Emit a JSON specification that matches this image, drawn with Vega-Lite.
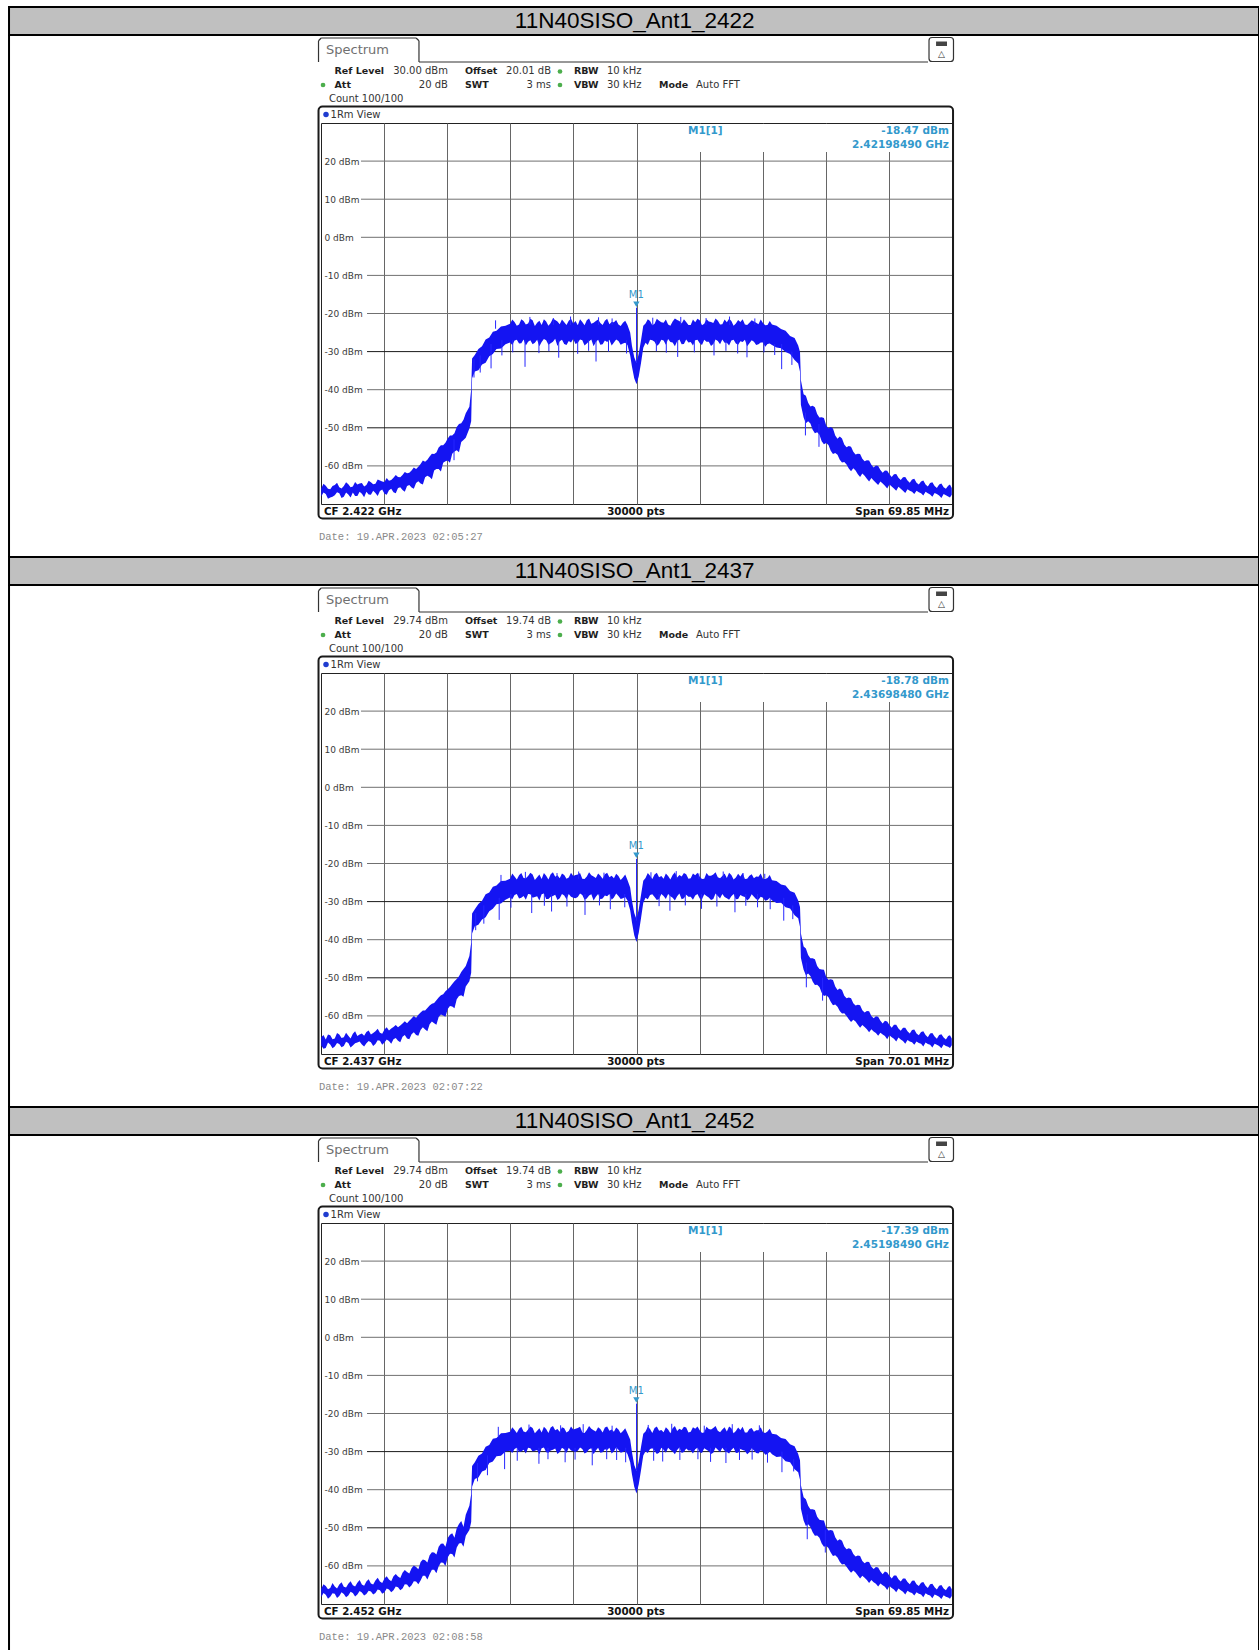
{
"$schema": "https://vega.github.io/schema/vega-lite/v6.json",
"padding": {"left": 7, "top": 5, "right": 0, "bottom": 0},
"autosize": {"type": "pad"},
"background": "white",
"config": {"view": {"stroke": "#222", "strokeWidth": 1}, "font": "DejaVu Sans"},
"data": {"values": [
{"p":1,"title":"11N40SISO_Ant1_2422","ref":"30.00 dBm","off":"20.01 dB","mk":"-18.47 dBm","mf":"2.42198490 GHz","mx":-0.015,"my":-18.47,"cf":"CF 2.422 GHz","span":"Span 69.85 MHz","date":"Date: 19.APR.2023  02:05:27"},
{"p":2,"title":"11N40SISO_Ant1_2437","ref":"29.74 dBm","off":"19.74 dB","mk":"-18.78 dBm","mf":"2.43698480 GHz","mx":-0.015,"my":-18.78,"cf":"CF 2.437 GHz","span":"Span 70.01 MHz","date":"Date: 19.APR.2023  02:07:22"},
{"p":3,"title":"11N40SISO_Ant1_2452","ref":"29.74 dBm","off":"19.74 dB","mk":"-17.39 dBm","mf":"2.45198490 GHz","mx":-0.015,"my":-17.39,"cf":"CF 2.452 GHz","span":"Span 69.85 MHz","date":"Date: 19.APR.2023  02:08:58"},
{"p":1,"h":20},{"p":1,"h":10},{"p":1,"h":0},{"p":1,"h":-10},{"p":1,"h":-20},{"p":1,"h":-30},{"p":1,"h":-40},{"p":1,"h":-50},{"p":1,"h":-60},
{"p":2,"h":20},{"p":2,"h":10},{"p":2,"h":0},{"p":2,"h":-10},{"p":2,"h":-20},{"p":2,"h":-30},{"p":2,"h":-40},{"p":2,"h":-50},{"p":2,"h":-60},
{"p":3,"h":20},{"p":3,"h":10},{"p":3,"h":0},{"p":3,"h":-10},{"p":3,"h":-20},{"p":3,"h":-30},{"p":3,"h":-40},{"p":3,"h":-50},{"p":3,"h":-60},
{"p":1,"f":-34.9,"a":-68.0,"b":-65.9},{"p":1,"f":-34.65,"a":-67.0,"b":-64.7},{"p":1,"f":-34.4,"a":-67.4,"b":-65.2},{"p":1,"f":-34.15,"a":-68.6,"b":-66.0},{"p":1,"f":-33.9,"a":-68.3,"b":-66.1},{"p":1,"f":-33.65,"a":-68.1,"b":-65.3},{"p":1,"f":-33.4,"a":-67.7,"b":-65.0},{"p":1,"f":-33.15,"a":-66.9,"b":-64.4},{"p":1,"f":-32.9,"a":-67.2,"b":-65.6},{"p":1,"f":-32.65,"a":-68.4,"b":-65.9},{"p":1,"f":-32.4,"a":-68.1,"b":-65.3},{"p":1,"f":-32.15,"a":-67.0,"b":-64.3},{"p":1,"f":-31.9,"a":-67.5,"b":-64.8},{"p":1,"f":-31.65,"a":-68.3,"b":-65.6},{"p":1,"f":-31.4,"a":-67.0,"b":-65.4},{"p":1,"f":-31.15,"a":-67.9,"b":-64.2},{"p":1,"f":-30.9,"a":-67.9,"b":-64.9},{"p":1,"f":-30.65,"a":-66.8,"b":-64.6},{"p":1,"f":-30.4,"a":-67.3,"b":-64.5},{"p":1,"f":-30.15,"a":-68.2,"b":-65.4},{"p":1,"f":-29.9,"a":-66.8,"b":-65.0},{"p":1,"f":-29.65,"a":-67.5,"b":-63.9},{"p":1,"f":-29.4,"a":-67.6,"b":-64.3},{"p":1,"f":-29.15,"a":-66.5,"b":-64.8},{"p":1,"f":-28.9,"a":-67.1,"b":-64.7},{"p":1,"f":-28.65,"a":-67.9,"b":-63.6},{"p":1,"f":-28.4,"a":-66.6,"b":-63.8},{"p":1,"f":-28.15,"a":-66.2,"b":-64.1},{"p":1,"f":-27.9,"a":-67.3,"b":-64.2},{"p":1,"f":-27.65,"a":-67.6,"b":-63.2},{"p":1,"f":-27.4,"a":-66.4,"b":-63.9},{"p":1,"f":-27.15,"a":-66.0,"b":-63.7},{"p":1,"f":-26.9,"a":-66.9,"b":-63.1},{"p":1,"f":-26.65,"a":-67.2,"b":-62.4},{"p":1,"f":-26.4,"a":-65.8,"b":-62.9},{"p":1,"f":-26.15,"a":-65.6,"b":-63.0},{"p":1,"f":-25.9,"a":-66.3,"b":-62.4},{"p":1,"f":-25.65,"a":-66.8,"b":-61.6},{"p":1,"f":-25.4,"a":-65.3,"b":-61.9},{"p":1,"f":-25.15,"a":-65.0,"b":-61.8},{"p":1,"f":-24.9,"a":-65.7,"b":-61.2},{"p":1,"f":-24.65,"a":-66.0,"b":-60.4},{"p":1,"f":-24.4,"a":-64.5,"b":-60.8},{"p":1,"f":-24.15,"a":-64.0,"b":-60.2},{"p":1,"f":-23.9,"a":-64.6,"b":-59.5},{"p":1,"f":-23.65,"a":-64.9,"b":-58.6},{"p":1,"f":-23.4,"a":-63.0,"b":-58.9},{"p":1,"f":-23.15,"a":-62.6,"b":-58.4},{"p":1,"f":-22.9,"a":-62.9,"b":-57.5},{"p":1,"f":-22.65,"a":-63.5,"b":-56.8},{"p":1,"f":-22.4,"a":-61.2,"b":-56.9},{"p":1,"f":-22.15,"a":-60.8,"b":-56.5},{"p":1,"f":-21.9,"a":-60.8,"b":-55.2},{"p":1,"f":-21.65,"a":-61.5,"b":-54.6},{"p":1,"f":-21.4,"a":-59.2,"b":-54.6},{"p":1,"f":-21.15,"a":-58.8,"b":-53.9},{"p":1,"f":-20.9,"a":-58.6,"b":-52.8},{"p":1,"f":-20.65,"a":-59.2,"b":-52.0},{"p":1,"f":-20.4,"a":-56.8,"b":-52.0},{"p":1,"f":-20.15,"a":-56.2,"b":-51.4},{"p":1,"f":-19.9,"a":-55.9,"b":-49.8},{"p":1,"f":-19.65,"a":-56.4,"b":-49.0},{"p":1,"f":-19.4,"a":-53.7,"b":-48.8},{"p":1,"f":-19.15,"a":-53.2,"b":-47.9},{"p":1,"f":-18.9,"a":-52.6,"b":-46.2},{"p":1,"f":-18.5,"a":-50.2,"b":-44.5},{"p":1,"f":-18.3,"a":-48.3,"b":-40.0},{"p":1,"f":-18.2,"a":-37.0,"b":-31.8},{"p":1,"f":-17.9,"a":-35.2,"b":-30.9},{"p":1,"f":-17.5,"a":-34.9,"b":-29.3},{"p":1,"f":-17.1,"a":-33.4,"b":-28.6},{"p":1,"f":-16.7,"a":-32.9,"b":-26.8},{"p":1,"f":-16.3,"a":-31.2,"b":-26.3},{"p":1,"f":-15.9,"a":-30.6,"b":-24.8},{"p":1,"f":-15.5,"a":-29.3,"b":-24.5},{"p":1,"f":-15.0,"a":-29.2,"b":-23.4},{"p":1,"f":-14.5,"a":-28.1,"b":-23.2},
{"p":1,"f":-14.0,"a":-27.6,"b":-22.7},{"p":1,"f":-13.75,"a":-28.3,"b":-21.6},{"p":1,"f":-13.5,"a":-27.1,"b":-22.2},{"p":1,"f":-13.25,"a":-26.9,"b":-23.2},{"p":1,"f":-13.0,"a":-27.9,"b":-22.9},{"p":1,"f":-12.75,"a":-27.8,"b":-21.5},{"p":1,"f":-12.5,"a":-26.8,"b":-22.0},{"p":1,"f":-12.25,"a":-28.4,"b":-22.9},{"p":1,"f":-12.0,"a":-27.4,"b":-22.6},{"p":1,"f":-11.75,"a":-27.0,"b":-21.4},{"p":1,"f":-11.5,"a":-28.1,"b":-21.8},{"p":1,"f":-11.25,"a":-27.7,"b":-23.3},{"p":1,"f":-11.0,"a":-26.9,"b":-22.4},{"p":1,"f":-10.75,"a":-28.6,"b":-21.9},{"p":1,"f":-10.5,"a":-27.5,"b":-23.0},{"p":1,"f":-10.25,"a":-26.7,"b":-21.5},{"p":1,"f":-10.0,"a":-27.0,"b":-22.1},{"p":1,"f":-9.75,"a":-28.2,"b":-23.2},{"p":1,"f":-9.5,"a":-27.8,"b":-22.5},{"p":1,"f":-9.25,"a":-27.4,"b":-21.3},{"p":1,"f":-9.0,"a":-26.6,"b":-21.7},{"p":1,"f":-8.75,"a":-28.5,"b":-22.1},{"p":1,"f":-8.5,"a":-27.3,"b":-22.8},{"p":1,"f":-8.25,"a":-26.9,"b":-21.6},{"p":1,"f":-8.0,"a":-28.0,"b":-22.3},{"p":1,"f":-7.75,"a":-28.3,"b":-23.0},{"p":1,"f":-7.5,"a":-27.2,"b":-21.9},{"p":1,"f":-7.25,"a":-27.6,"b":-21.4},{"p":1,"f":-7.0,"a":-26.7,"b":-22.6},{"p":1,"f":-6.75,"a":-28.0,"b":-22.0},{"p":1,"f":-6.5,"a":-27.7,"b":-23.1},{"p":1,"f":-6.25,"a":-26.8,"b":-21.5},{"p":1,"f":-6.0,"a":-27.0,"b":-22.2},{"p":1,"f":-5.75,"a":-28.4,"b":-23.1},{"p":1,"f":-5.5,"a":-27.9,"b":-21.8},{"p":1,"f":-5.25,"a":-27.3,"b":-21.3},{"p":1,"f":-5.0,"a":-26.8,"b":-22.7},{"p":1,"f":-4.75,"a":-28.6,"b":-22.4},{"p":1,"f":-4.5,"a":-27.5,"b":-22.0},{"p":1,"f":-4.25,"a":-26.9,"b":-21.6},{"p":1,"f":-4.0,"a":-28.2,"b":-22.5},{"p":1,"f":-3.75,"a":-28.1,"b":-23.0},{"p":1,"f":-3.5,"a":-27.1,"b":-21.9},{"p":1,"f":-3.25,"a":-27.5,"b":-21.4},{"p":1,"f":-3.0,"a":-26.9,"b":-22.8},{"p":1,"f":-2.75,"a":-28.4,"b":-22.2},{"p":1,"f":-2.5,"a":-27.6,"b":-22.3},{"p":1,"f":-2.25,"a":-26.8,"b":-21.7},{"p":1,"f":-2.0,"a":-27.2,"b":-22.9},{"p":1,"f":-1.75,"a":-28.2,"b":-23.3},{"p":1,"f":-1.5,"a":-27.9,"b":-22.4},{"p":1,"f":-1.25,"a":-27.7,"b":-21.9},{"p":1,"f":-1.0,"a":-28.3,"b":-23.0},
{"p":1,"f":-0.7,"a":-31.0,"b":-25.0},{"p":1,"f":-0.5,"a":-34.0,"b":-28.5},{"p":1,"f":-0.25,"a":-37.0,"b":-31.5},{"p":1,"f":0.0,"a":-38.6,"b":-33.0},{"p":1,"f":0.25,"a":-36.5,"b":-30.5},{"p":1,"f":0.5,"a":-33.0,"b":-27.0},{"p":1,"f":0.75,"a":-29.0,"b":-23.2},
{"p":1,"f":1.0,"a":-27.7,"b":-22.6},{"p":1,"f":1.25,"a":-28.3,"b":-21.5},{"p":1,"f":1.5,"a":-26.9,"b":-22.0},{"p":1,"f":1.75,"a":-27.0,"b":-23.1},{"p":1,"f":2.0,"a":-27.4,"b":-22.7},{"p":1,"f":2.25,"a":-28.5,"b":-21.4},{"p":1,"f":2.5,"a":-28.0,"b":-21.9},{"p":1,"f":2.75,"a":-26.9,"b":-22.3},{"p":1,"f":3.0,"a":-27.1,"b":-22.4},{"p":1,"f":3.25,"a":-28.2,"b":-21.6},{"p":1,"f":3.5,"a":-26.7,"b":-22.9},{"p":1,"f":3.75,"a":-27.5,"b":-23.2},{"p":1,"f":4.0,"a":-27.6,"b":-22.1},{"p":1,"f":4.25,"a":-28.6,"b":-21.3},{"p":1,"f":4.5,"a":-27.3,"b":-21.7},{"p":1,"f":4.75,"a":-26.8,"b":-22.0},{"p":1,"f":5.0,"a":-28.1,"b":-22.6},{"p":1,"f":5.25,"a":-28.0,"b":-21.5},{"p":1,"f":5.5,"a":-26.8,"b":-22.2},{"p":1,"f":5.75,"a":-27.6,"b":-23.0},{"p":1,"f":6.0,"a":-27.5,"b":-23.0},{"p":1,"f":6.25,"a":-28.4,"b":-21.6},{"p":1,"f":6.5,"a":-27.0,"b":-22.3},{"p":1,"f":6.75,"a":-26.9,"b":-21.4},{"p":1,"f":7.0,"a":-27.8,"b":-21.8},{"p":1,"f":7.25,"a":-28.3,"b":-23.1},{"p":1,"f":7.5,"a":-26.9,"b":-22.7},{"p":1,"f":7.75,"a":-27.4,"b":-21.5},{"p":1,"f":8.0,"a":-27.4,"b":-22.1},{"p":1,"f":8.25,"a":-28.5,"b":-22.2},{"p":1,"f":8.5,"a":-28.0,"b":-22.5},{"p":1,"f":8.75,"a":-26.8,"b":-21.3},{"p":1,"f":9.0,"a":-27.2,"b":-21.9},{"p":1,"f":9.25,"a":-28.1,"b":-22.9},{"p":1,"f":9.5,"a":-26.8,"b":-22.8},{"p":1,"f":9.75,"a":-27.7,"b":-21.6},{"p":1,"f":10.0,"a":-27.7,"b":-22.3},{"p":1,"f":10.25,"a":-28.4,"b":-21.4},{"p":1,"f":10.5,"a":-27.1,"b":-22.0},{"p":1,"f":10.75,"a":-26.9,"b":-23.2},{"p":1,"f":11.0,"a":-27.9,"b":-22.6},{"p":1,"f":11.25,"a":-28.2,"b":-21.7},{"p":1,"f":11.5,"a":-27.3,"b":-22.2},{"p":1,"f":11.75,"a":-27.5,"b":-21.5},{"p":1,"f":12.0,"a":-26.9,"b":-22.9},{"p":1,"f":12.25,"a":-28.6,"b":-23.0},{"p":1,"f":12.5,"a":-27.8,"b":-22.4},{"p":1,"f":12.75,"a":-27.0,"b":-21.8},{"p":1,"f":13.0,"a":-27.4,"b":-22.1},{"p":1,"f":13.25,"a":-28.3,"b":-22.4},{"p":1,"f":13.5,"a":-28.1,"b":-22.8},{"p":1,"f":13.75,"a":-27.6,"b":-21.6},{"p":1,"f":14.0,"a":-27.6,"b":-22.5},{"p":1,"f":14.25,"a":-28.7,"b":-23.1},{"p":1,"f":14.5,"a":-28.0,"b":-23.0},{"p":1,"f":14.75,"a":-27.9,"b":-22.0},{"p":1,"f":15.0,"a":-28.3,"b":-22.9},
{"p":1,"f":15.5,"a":-28.9,"b":-23.2},{"p":1,"f":16.0,"a":-29.1,"b":-24.1},{"p":1,"f":16.5,"a":-30.1,"b":-24.5},{"p":1,"f":17.0,"a":-30.6,"b":-25.9},{"p":1,"f":17.5,"a":-32.2,"b":-26.4},{"p":1,"f":17.9,"a":-33.1,"b":-28.4},{"p":1,"f":18.1,"a":-35.3,"b":-30.1},{"p":1,"f":18.2,"a":-44.0,"b":-37.5},{"p":1,"f":18.5,"a":-47.3,"b":-41.2},{"p":1,"f":18.75,"a":-48.8,"b":-41.6},{"p":1,"f":19.0,"a":-48.3,"b":-43.4},{"p":1,"f":19.25,"a":-48.9,"b":-44.4},{"p":1,"f":19.5,"a":-50.5,"b":-44.2},{"p":1,"f":19.75,"a":-51.4,"b":-44.6},{"p":1,"f":20.0,"a":-51.2,"b":-46.4},{"p":1,"f":20.25,"a":-51.8,"b":-47.3},{"p":1,"f":20.5,"a":-53.5,"b":-47.2},{"p":1,"f":20.75,"a":-54.3,"b":-47.4},{"p":1,"f":21.0,"a":-54.0,"b":-49.4},{"p":1,"f":21.25,"a":-54.5,"b":-50.1},{"p":1,"f":21.5,"a":-56.0,"b":-49.8},{"p":1,"f":21.75,"a":-56.9,"b":-50.2},{"p":1,"f":22.0,"a":-56.6,"b":-52.0},{"p":1,"f":22.25,"a":-57.1,"b":-52.9},{"p":1,"f":22.5,"a":-58.4,"b":-52.3},{"p":1,"f":22.75,"a":-59.1,"b":-52.8},{"p":1,"f":23.0,"a":-59.0,"b":-54.4},{"p":1,"f":23.25,"a":-59.6,"b":-55.1},{"p":1,"f":23.5,"a":-60.7,"b":-54.8},{"p":1,"f":23.75,"a":-61.4,"b":-55.0},{"p":1,"f":24.0,"a":-60.6,"b":-56.3},{"p":1,"f":24.25,"a":-61.2,"b":-57.0},{"p":1,"f":24.5,"a":-62.2,"b":-56.8},{"p":1,"f":24.75,"a":-62.9,"b":-56.9},{"p":1,"f":25.0,"a":-62.0,"b":-58.1},{"p":1,"f":25.25,"a":-62.6,"b":-58.8},{"p":1,"f":25.5,"a":-63.4,"b":-58.5},{"p":1,"f":25.75,"a":-64.1,"b":-58.6},{"p":1,"f":26.0,"a":-63.2,"b":-59.7},{"p":1,"f":26.25,"a":-63.8,"b":-60.4},{"p":1,"f":26.5,"a":-64.4,"b":-59.9},{"p":1,"f":26.75,"a":-65.0,"b":-60.0},{"p":1,"f":27.0,"a":-64.1,"b":-61.1},{"p":1,"f":27.25,"a":-64.6,"b":-61.8},{"p":1,"f":27.5,"a":-65.2,"b":-61.2},{"p":1,"f":27.75,"a":-65.9,"b":-61.3},{"p":1,"f":28.0,"a":-64.9,"b":-62.2},{"p":1,"f":28.25,"a":-65.4,"b":-62.9},{"p":1,"f":28.5,"a":-65.9,"b":-62.2},{"p":1,"f":28.75,"a":-66.5,"b":-62.1},{"p":1,"f":29.0,"a":-65.5,"b":-63.1},{"p":1,"f":29.25,"a":-66.0,"b":-63.7},{"p":1,"f":29.5,"a":-66.5,"b":-63.0},{"p":1,"f":29.75,"a":-67.1,"b":-62.9},{"p":1,"f":30.0,"a":-66.1,"b":-63.8},{"p":1,"f":30.25,"a":-66.5,"b":-64.4},{"p":1,"f":30.5,"a":-66.8,"b":-63.6},{"p":1,"f":30.75,"a":-67.4,"b":-63.4},{"p":1,"f":31.0,"a":-66.5,"b":-64.4},{"p":1,"f":31.25,"a":-66.9,"b":-64.9},{"p":1,"f":31.5,"a":-67.2,"b":-64.1},{"p":1,"f":31.75,"a":-67.8,"b":-63.8},{"p":1,"f":32.0,"a":-66.8,"b":-64.9},{"p":1,"f":32.25,"a":-67.2,"b":-65.4},{"p":1,"f":32.5,"a":-67.5,"b":-64.5},{"p":1,"f":32.75,"a":-68.1,"b":-64.3},{"p":1,"f":33.0,"a":-67.1,"b":-65.3},{"p":1,"f":33.25,"a":-67.4,"b":-65.8},{"p":1,"f":33.5,"a":-67.8,"b":-64.9},{"p":1,"f":33.75,"a":-68.4,"b":-64.6},{"p":1,"f":34.0,"a":-67.4,"b":-65.6},{"p":1,"f":34.25,"a":-67.7,"b":-66.0},{"p":1,"f":34.5,"a":-68.0,"b":-65.2},{"p":1,"f":34.7,"a":-68.3,"b":-64.9},{"p":1,"f":34.9,"a":-67.6,"b":-65.8},
{"p":2,"f":-34.9,"a":-67.8,"b":-65.6},{"p":2,"f":-34.65,"a":-68.6,"b":-65.0},{"p":2,"f":-34.4,"a":-68.4,"b":-66.2},{"p":2,"f":-34.15,"a":-67.0,"b":-64.9},{"p":2,"f":-33.9,"a":-67.5,"b":-65.1},{"p":2,"f":-33.65,"a":-68.5,"b":-66.1},{"p":2,"f":-33.4,"a":-68.0,"b":-65.9},{"p":2,"f":-33.15,"a":-67.1,"b":-64.5},{"p":2,"f":-32.9,"a":-67.4,"b":-64.9},{"p":2,"f":-32.65,"a":-68.2,"b":-65.8},{"p":2,"f":-32.4,"a":-67.9,"b":-65.6},{"p":2,"f":-32.15,"a":-66.8,"b":-64.4},{"p":2,"f":-31.9,"a":-67.1,"b":-65.2},{"p":2,"f":-31.65,"a":-68.3,"b":-65.9},{"p":2,"f":-31.4,"a":-67.8,"b":-64.7},{"p":2,"f":-31.15,"a":-67.2,"b":-64.0},{"p":2,"f":-30.9,"a":-67.0,"b":-65.3},{"p":2,"f":-30.65,"a":-66.7,"b":-64.9},{"p":2,"f":-30.4,"a":-67.5,"b":-64.6},{"p":2,"f":-30.15,"a":-68.0,"b":-65.2},{"p":2,"f":-29.9,"a":-67.2,"b":-64.2},{"p":2,"f":-29.65,"a":-66.6,"b":-63.8},{"p":2,"f":-29.4,"a":-66.9,"b":-64.9},{"p":2,"f":-29.15,"a":-67.9,"b":-64.5},{"p":2,"f":-28.9,"a":-67.4,"b":-64.0},{"p":2,"f":-28.65,"a":-66.4,"b":-63.4},{"p":2,"f":-28.4,"a":-66.5,"b":-64.4},{"p":2,"f":-28.15,"a":-67.6,"b":-64.7},{"p":2,"f":-27.9,"a":-67.0,"b":-63.6},{"p":2,"f":-27.65,"a":-66.2,"b":-63.0},{"p":2,"f":-27.4,"a":-66.6,"b":-63.8},{"p":2,"f":-27.15,"a":-67.3,"b":-63.3},{"p":2,"f":-26.9,"a":-66.1,"b":-62.9},{"p":2,"f":-26.65,"a":-65.8,"b":-62.4},{"p":2,"f":-26.4,"a":-66.5,"b":-63.0},{"p":2,"f":-26.15,"a":-66.9,"b":-62.5},{"p":2,"f":-25.9,"a":-65.5,"b":-62.0},{"p":2,"f":-25.65,"a":-65.0,"b":-61.4},{"p":2,"f":-25.4,"a":-65.9,"b":-61.9},{"p":2,"f":-25.15,"a":-66.1,"b":-61.3},{"p":2,"f":-24.9,"a":-64.8,"b":-60.7},{"p":2,"f":-24.65,"a":-64.3,"b":-60.0},{"p":2,"f":-24.4,"a":-65.0,"b":-60.5},{"p":2,"f":-24.15,"a":-65.2,"b":-59.7},{"p":2,"f":-23.9,"a":-63.7,"b":-59.1},{"p":2,"f":-23.65,"a":-63.0,"b":-58.6},{"p":2,"f":-23.4,"a":-63.6,"b":-58.6},{"p":2,"f":-23.15,"a":-64.0,"b":-57.9},{"p":2,"f":-22.9,"a":-62.2,"b":-57.3},{"p":2,"f":-22.65,"a":-61.5,"b":-56.8},{"p":2,"f":-22.4,"a":-61.9,"b":-56.6},{"p":2,"f":-22.15,"a":-62.3,"b":-55.9},{"p":2,"f":-21.9,"a":-60.3,"b":-55.2},{"p":2,"f":-21.65,"a":-59.6,"b":-54.6},{"p":2,"f":-21.4,"a":-59.9,"b":-54.3},{"p":2,"f":-21.15,"a":-60.2,"b":-53.5},{"p":2,"f":-20.9,"a":-58.2,"b":-53.0},{"p":2,"f":-20.65,"a":-57.4,"b":-52.4},{"p":2,"f":-20.4,"a":-57.5,"b":-51.6},{"p":2,"f":-20.15,"a":-58.0,"b":-50.9},{"p":2,"f":-19.9,"a":-55.6,"b":-50.3},{"p":2,"f":-19.65,"a":-54.8,"b":-49.6},{"p":2,"f":-19.4,"a":-54.6,"b":-48.5},{"p":2,"f":-19.15,"a":-55.0,"b":-47.7},{"p":2,"f":-18.9,"a":-52.3,"b":-46.9},{"p":2,"f":-18.5,"a":-50.9,"b":-44.3},{"p":2,"f":-18.3,"a":-48.7,"b":-40.8},{"p":2,"f":-18.2,"a":-38.4,"b":-33.1},{"p":2,"f":-17.9,"a":-36.5,"b":-32.0},{"p":2,"f":-17.5,"a":-36.1,"b":-30.6},{"p":2,"f":-17.1,"a":-34.7,"b":-29.8},{"p":2,"f":-16.7,"a":-34.1,"b":-28.1},{"p":2,"f":-16.3,"a":-32.5,"b":-27.6},{"p":2,"f":-15.9,"a":-31.9,"b":-26.1},{"p":2,"f":-15.5,"a":-30.7,"b":-25.8},{"p":2,"f":-15.0,"a":-30.5,"b":-24.6},{"p":2,"f":-14.5,"a":-29.5,"b":-24.5},
{"p":2,"f":-14.0,"a":-28.9,"b":-24.0},{"p":2,"f":-13.75,"a":-29.4,"b":-22.6},{"p":2,"f":-13.5,"a":-28.3,"b":-23.4},{"p":2,"f":-13.25,"a":-28.0,"b":-24.2},{"p":2,"f":-13.0,"a":-29.2,"b":-23.1},{"p":2,"f":-12.75,"a":-29.0,"b":-22.5},{"p":2,"f":-12.5,"a":-28.5,"b":-23.8},{"p":2,"f":-12.25,"a":-29.5,"b":-23.9},{"p":2,"f":-12.0,"a":-28.0,"b":-23.3},{"p":2,"f":-11.75,"a":-28.1,"b":-22.4},{"p":2,"f":-11.5,"a":-29.0,"b":-22.9},{"p":2,"f":-11.25,"a":-28.8,"b":-24.3},{"p":2,"f":-11.0,"a":-28.6,"b":-23.6},{"p":2,"f":-10.75,"a":-29.7,"b":-22.9},{"p":2,"f":-10.5,"a":-28.1,"b":-24.1},{"p":2,"f":-10.25,"a":-27.9,"b":-22.5},{"p":2,"f":-10.0,"a":-29.3,"b":-23.2},{"p":2,"f":-9.75,"a":-29.3,"b":-24.2},{"p":2,"f":-9.5,"a":-28.7,"b":-22.8},{"p":2,"f":-9.25,"a":-28.5,"b":-22.3},{"p":2,"f":-9.0,"a":-28.2,"b":-23.5},{"p":2,"f":-8.75,"a":-29.6,"b":-23.1},{"p":2,"f":-8.5,"a":-29.1,"b":-23.9},{"p":2,"f":-8.25,"a":-28.0,"b":-22.6},{"p":2,"f":-8.0,"a":-28.4,"b":-23.0},{"p":2,"f":-7.75,"a":-29.4,"b":-24.0},{"p":2,"f":-7.5,"a":-28.0,"b":-23.7},{"p":2,"f":-7.25,"a":-28.7,"b":-22.4},{"p":2,"f":-7.0,"a":-29.0,"b":-23.3},{"p":2,"f":-6.75,"a":-29.1,"b":-23.0},{"p":2,"f":-6.5,"a":-28.8,"b":-22.9},{"p":2,"f":-6.25,"a":-27.9,"b":-22.5},{"p":2,"f":-6.0,"a":-28.3,"b":-24.0},{"p":2,"f":-5.75,"a":-29.5,"b":-24.1},{"p":2,"f":-5.5,"a":-29.2,"b":-23.4},{"p":2,"f":-5.25,"a":-28.4,"b":-22.3},{"p":2,"f":-5.0,"a":-28.1,"b":-23.1},{"p":2,"f":-4.75,"a":-29.7,"b":-23.4},{"p":2,"f":-4.5,"a":-28.7,"b":-23.8},{"p":2,"f":-4.25,"a":-28.0,"b":-22.6},{"p":2,"f":-4.0,"a":-29.4,"b":-23.2},{"p":2,"f":-3.75,"a":-29.2,"b":-24.0},{"p":2,"f":-3.5,"a":-28.4,"b":-22.8},{"p":2,"f":-3.25,"a":-28.6,"b":-22.4},{"p":2,"f":-3.0,"a":-28.0,"b":-23.6},{"p":2,"f":-2.75,"a":-29.5,"b":-23.2},{"p":2,"f":-2.5,"a":-28.9,"b":-23.9},{"p":2,"f":-2.25,"a":-27.9,"b":-22.7},{"p":2,"f":-2.0,"a":-28.5,"b":-23.3},{"p":2,"f":-1.75,"a":-29.3,"b":-24.3},{"p":2,"f":-1.5,"a":-29.1,"b":-23.7},{"p":2,"f":-1.25,"a":-28.8,"b":-22.9},{"p":2,"f":-1.0,"a":-29.7,"b":-24.3},
{"p":2,"f":-0.7,"a":-32.3,"b":-26.3},{"p":2,"f":-0.5,"a":-35.5,"b":-29.8},{"p":2,"f":-0.25,"a":-38.8,"b":-33.0},{"p":2,"f":0.0,"a":-40.6,"b":-34.6},{"p":2,"f":0.25,"a":-38.2,"b":-32.0},{"p":2,"f":0.5,"a":-34.4,"b":-28.3},{"p":2,"f":0.75,"a":-30.3,"b":-24.5},
{"p":2,"f":1.0,"a":-29.0,"b":-23.8},{"p":2,"f":1.25,"a":-29.4,"b":-22.5},{"p":2,"f":1.5,"a":-28.3,"b":-23.2},{"p":2,"f":1.75,"a":-28.1,"b":-24.1},{"p":2,"f":2.0,"a":-28.8,"b":-22.9},{"p":2,"f":2.25,"a":-29.6,"b":-22.4},{"p":2,"f":2.5,"a":-29.3,"b":-23.6},{"p":2,"f":2.75,"a":-28.0,"b":-23.3},{"p":2,"f":3.0,"a":-28.5,"b":-24.0},{"p":2,"f":3.25,"a":-29.3,"b":-22.6},{"p":2,"f":3.5,"a":-28.0,"b":-23.3},{"p":2,"f":3.75,"a":-28.6,"b":-24.2},{"p":2,"f":4.0,"a":-29.0,"b":-23.0},{"p":2,"f":4.25,"a":-29.7,"b":-22.3},{"p":2,"f":4.5,"a":-28.6,"b":-23.7},{"p":2,"f":4.75,"a":-27.9,"b":-23.0},{"p":2,"f":5.0,"a":-29.4,"b":-23.4},{"p":2,"f":5.25,"a":-29.1,"b":-22.5},{"p":2,"f":5.5,"a":-28.2,"b":-22.8},{"p":2,"f":5.75,"a":-28.7,"b":-24.0},{"p":2,"f":6.0,"a":-28.7,"b":-23.9},{"p":2,"f":6.25,"a":-29.5,"b":-22.6},{"p":2,"f":6.5,"a":-28.4,"b":-23.1},{"p":2,"f":6.75,"a":-28.0,"b":-22.4},{"p":2,"f":7.0,"a":-29.2,"b":-23.5},{"p":2,"f":7.25,"a":-29.4,"b":-24.1},{"p":2,"f":7.5,"a":-28.1,"b":-24.0},{"p":2,"f":7.75,"a":-28.5,"b":-22.5},{"p":2,"f":8.0,"a":-28.9,"b":-23.2},{"p":2,"f":8.25,"a":-29.6,"b":-23.2},{"p":2,"f":8.5,"a":-29.3,"b":-22.9},{"p":2,"f":8.75,"a":-27.9,"b":-22.3},{"p":2,"f":9.0,"a":-28.5,"b":-23.6},{"p":2,"f":9.25,"a":-29.2,"b":-23.9},{"p":2,"f":9.5,"a":-28.0,"b":-23.3},{"p":2,"f":9.75,"a":-28.8,"b":-22.6},{"p":2,"f":10.0,"a":-29.1,"b":-23.8},{"p":2,"f":10.25,"a":-29.5,"b":-22.4},{"p":2,"f":10.5,"a":-28.6,"b":-23.0},{"p":2,"f":10.75,"a":-28.0,"b":-24.2},{"p":2,"f":11.0,"a":-29.4,"b":-23.7},{"p":2,"f":11.25,"a":-29.3,"b":-22.7},{"p":2,"f":11.5,"a":-28.3,"b":-23.4},{"p":2,"f":11.75,"a":-28.6,"b":-22.5},{"p":2,"f":12.0,"a":-28.8,"b":-24.1},{"p":2,"f":12.25,"a":-29.7,"b":-24.0},{"p":2,"f":12.5,"a":-29.2,"b":-23.2},{"p":2,"f":12.75,"a":-28.1,"b":-22.8},{"p":2,"f":13.0,"a":-28.7,"b":-23.9},{"p":2,"f":13.25,"a":-29.4,"b":-23.4},{"p":2,"f":13.5,"a":-29.5,"b":-23.5},{"p":2,"f":13.75,"a":-28.7,"b":-22.6},{"p":2,"f":14.0,"a":-29.0,"b":-24.0},{"p":2,"f":14.25,"a":-29.8,"b":-24.1},{"p":2,"f":14.5,"a":-29.6,"b":-23.8},{"p":2,"f":14.75,"a":-29.0,"b":-23.0},{"p":2,"f":15.0,"a":-29.7,"b":-24.4},
{"p":2,"f":15.5,"a":-30.4,"b":-24.6},{"p":2,"f":16.0,"a":-30.3,"b":-25.5},{"p":2,"f":16.5,"a":-31.5,"b":-25.8},{"p":2,"f":17.0,"a":-31.8,"b":-27.2},{"p":2,"f":17.5,"a":-33.6,"b":-27.7},{"p":2,"f":17.9,"a":-34.4,"b":-29.7},{"p":2,"f":18.1,"a":-36.6,"b":-31.4},{"p":2,"f":18.2,"a":-44.8,"b":-38.4},{"p":2,"f":18.5,"a":-47.9,"b":-41.8},{"p":2,"f":18.75,"a":-49.3,"b":-42.3},{"p":2,"f":19.0,"a":-48.9,"b":-44.0},{"p":2,"f":19.25,"a":-49.5,"b":-44.9},{"p":2,"f":19.5,"a":-51.0,"b":-44.9},{"p":2,"f":19.75,"a":-51.9,"b":-45.1},{"p":2,"f":20.0,"a":-51.8,"b":-46.9},{"p":2,"f":20.25,"a":-52.4,"b":-47.7},{"p":2,"f":20.5,"a":-53.9,"b":-47.8},{"p":2,"f":20.75,"a":-54.8,"b":-47.9},{"p":2,"f":21.0,"a":-54.6,"b":-49.8},{"p":2,"f":21.25,"a":-55.1,"b":-50.5},{"p":2,"f":21.5,"a":-56.3,"b":-50.4},{"p":2,"f":21.75,"a":-57.2,"b":-50.6},{"p":2,"f":22.0,"a":-57.0,"b":-52.3},{"p":2,"f":22.25,"a":-57.6,"b":-53.2},{"p":2,"f":22.5,"a":-58.7,"b":-52.8},{"p":2,"f":22.75,"a":-59.4,"b":-53.2},{"p":2,"f":23.0,"a":-59.3,"b":-54.7},{"p":2,"f":23.25,"a":-60.0,"b":-55.4},{"p":2,"f":23.5,"a":-60.9,"b":-55.2},{"p":2,"f":23.75,"a":-61.6,"b":-55.4},{"p":2,"f":24.0,"a":-61.0,"b":-56.7},{"p":2,"f":24.25,"a":-61.5,"b":-57.3},{"p":2,"f":24.5,"a":-62.3,"b":-57.1},{"p":2,"f":24.75,"a":-63.1,"b":-57.2},{"p":2,"f":25.0,"a":-62.4,"b":-58.5},{"p":2,"f":25.25,"a":-62.9,"b":-59.1},{"p":2,"f":25.5,"a":-63.5,"b":-58.7},{"p":2,"f":25.75,"a":-64.3,"b":-58.8},{"p":2,"f":26.0,"a":-63.5,"b":-60.0},{"p":2,"f":26.25,"a":-64.1,"b":-60.6},{"p":2,"f":26.5,"a":-64.5,"b":-60.1},{"p":2,"f":26.75,"a":-65.2,"b":-60.2},{"p":2,"f":27.0,"a":-64.4,"b":-61.3},{"p":2,"f":27.25,"a":-64.9,"b":-62.0},{"p":2,"f":27.5,"a":-65.3,"b":-61.3},{"p":2,"f":27.75,"a":-66.1,"b":-61.5},{"p":2,"f":28.0,"a":-65.1,"b":-62.4},{"p":2,"f":28.25,"a":-65.6,"b":-63.1},{"p":2,"f":28.5,"a":-66.0,"b":-62.3},{"p":2,"f":28.75,"a":-66.7,"b":-62.3},{"p":2,"f":29.0,"a":-65.7,"b":-63.3},{"p":2,"f":29.25,"a":-66.2,"b":-63.9},{"p":2,"f":29.5,"a":-66.6,"b":-63.1},{"p":2,"f":29.75,"a":-67.3,"b":-63.1},{"p":2,"f":30.0,"a":-66.3,"b":-64.0},{"p":2,"f":30.25,"a":-66.7,"b":-64.6},{"p":2,"f":30.5,"a":-66.9,"b":-63.7},{"p":2,"f":30.75,"a":-67.6,"b":-63.6},{"p":2,"f":31.0,"a":-66.7,"b":-64.6},{"p":2,"f":31.25,"a":-67.1,"b":-65.1},{"p":2,"f":31.5,"a":-67.3,"b":-64.2},{"p":2,"f":31.75,"a":-68.0,"b":-64.0},{"p":2,"f":32.0,"a":-67.0,"b":-65.0},{"p":2,"f":32.25,"a":-67.4,"b":-65.6},{"p":2,"f":32.5,"a":-67.6,"b":-64.6},{"p":2,"f":32.75,"a":-68.3,"b":-64.5},{"p":2,"f":33.0,"a":-67.3,"b":-65.4},{"p":2,"f":33.25,"a":-67.6,"b":-66.0},{"p":2,"f":33.5,"a":-67.9,"b":-65.0},{"p":2,"f":33.75,"a":-68.5,"b":-64.8},{"p":2,"f":34.0,"a":-67.5,"b":-65.7},{"p":2,"f":34.25,"a":-67.9,"b":-66.2},{"p":2,"f":34.5,"a":-68.1,"b":-65.3},{"p":2,"f":34.7,"a":-68.4,"b":-65.1},{"p":2,"f":34.9,"a":-67.7,"b":-65.9},
{"p":3,"f":-34.9,"a":-68.2,"b":-66.0},{"p":3,"f":-34.65,"a":-67.1,"b":-64.8},{"p":3,"f":-34.4,"a":-67.6,"b":-65.3},{"p":3,"f":-34.15,"a":-68.6,"b":-66.1},{"p":3,"f":-33.9,"a":-68.1,"b":-65.8},{"p":3,"f":-33.65,"a":-67.2,"b":-64.5},{"p":3,"f":-33.4,"a":-67.3,"b":-65.4},{"p":3,"f":-33.15,"a":-68.4,"b":-65.9},{"p":3,"f":-32.9,"a":-67.9,"b":-64.9},{"p":3,"f":-32.65,"a":-66.9,"b":-64.3},{"p":3,"f":-32.4,"a":-67.4,"b":-65.5},{"p":3,"f":-32.15,"a":-68.2,"b":-65.7},{"p":3,"f":-31.9,"a":-67.8,"b":-64.7},{"p":3,"f":-31.65,"a":-66.8,"b":-64.0},{"p":3,"f":-31.4,"a":-67.1,"b":-65.1},{"p":3,"f":-31.15,"a":-68.0,"b":-65.4},{"p":3,"f":-30.9,"a":-67.5,"b":-64.4},{"p":3,"f":-30.65,"a":-66.6,"b":-63.7},{"p":3,"f":-30.4,"a":-67.0,"b":-64.9},{"p":3,"f":-30.15,"a":-67.8,"b":-65.2},{"p":3,"f":-29.9,"a":-67.4,"b":-64.1},{"p":3,"f":-29.65,"a":-66.5,"b":-63.5},{"p":3,"f":-29.4,"a":-66.7,"b":-64.6},{"p":3,"f":-29.15,"a":-67.5,"b":-64.9},{"p":3,"f":-28.9,"a":-67.1,"b":-63.8},{"p":3,"f":-28.65,"a":-66.2,"b":-63.1},{"p":3,"f":-28.4,"a":-66.4,"b":-64.1},{"p":3,"f":-28.15,"a":-67.3,"b":-64.5},{"p":3,"f":-27.9,"a":-66.9,"b":-63.3},{"p":3,"f":-27.65,"a":-65.9,"b":-62.7},{"p":3,"f":-27.4,"a":-66.2,"b":-63.6},{"p":3,"f":-27.15,"a":-66.9,"b":-64.0},{"p":3,"f":-26.9,"a":-66.4,"b":-62.7},{"p":3,"f":-26.65,"a":-65.4,"b":-62.1},{"p":3,"f":-26.4,"a":-65.6,"b":-62.8},{"p":3,"f":-26.15,"a":-66.4,"b":-63.2},{"p":3,"f":-25.9,"a":-65.9,"b":-61.8},{"p":3,"f":-25.65,"a":-64.8,"b":-61.1},{"p":3,"f":-25.4,"a":-64.9,"b":-61.6},{"p":3,"f":-25.15,"a":-65.7,"b":-62.0},{"p":3,"f":-24.9,"a":-65.1,"b":-60.6},{"p":3,"f":-24.65,"a":-64.0,"b":-59.9},{"p":3,"f":-24.4,"a":-64.1,"b":-60.3},{"p":3,"f":-24.15,"a":-64.8,"b":-60.9},{"p":3,"f":-23.9,"a":-63.8,"b":-59.0},{"p":3,"f":-23.65,"a":-62.6,"b":-58.3},{"p":3,"f":-23.4,"a":-62.6,"b":-58.5},{"p":3,"f":-23.15,"a":-63.6,"b":-59.1},{"p":3,"f":-22.9,"a":-62.2,"b":-57.2},{"p":3,"f":-22.65,"a":-61.0,"b":-56.4},{"p":3,"f":-22.4,"a":-61.0,"b":-56.5},{"p":3,"f":-22.15,"a":-61.9,"b":-57.0},{"p":3,"f":-21.9,"a":-60.1,"b":-55.0},{"p":3,"f":-21.65,"a":-59.1,"b":-54.2},{"p":3,"f":-21.4,"a":-59.2,"b":-54.1},{"p":3,"f":-21.15,"a":-60.0,"b":-55.0},{"p":3,"f":-20.9,"a":-57.8,"b":-52.7},{"p":3,"f":-20.65,"a":-56.8,"b":-51.8},{"p":3,"f":-20.4,"a":-56.9,"b":-51.4},{"p":3,"f":-20.15,"a":-57.8,"b":-52.6},{"p":3,"f":-19.9,"a":-55.2,"b":-50.1},{"p":3,"f":-19.65,"a":-54.1,"b":-49.0},{"p":3,"f":-19.4,"a":-54.0,"b":-48.2},{"p":3,"f":-19.15,"a":-55.0,"b":-49.8},{"p":3,"f":-18.9,"a":-52.1,"b":-46.6},{"p":3,"f":-18.5,"a":-50.6,"b":-44.2},{"p":3,"f":-18.3,"a":-48.5,"b":-41.2},{"p":3,"f":-18.2,"a":-39.2,"b":-33.8},{"p":3,"f":-17.9,"a":-37.2,"b":-32.8},{"p":3,"f":-17.5,"a":-36.8,"b":-31.1},{"p":3,"f":-17.1,"a":-35.2,"b":-30.5},{"p":3,"f":-16.7,"a":-34.8,"b":-28.7},{"p":3,"f":-16.3,"a":-33.0,"b":-28.3},{"p":3,"f":-15.9,"a":-32.6,"b":-26.6},{"p":3,"f":-15.5,"a":-31.2,"b":-26.4},{"p":3,"f":-15.0,"a":-31.1,"b":-25.2},{"p":3,"f":-14.5,"a":-30.0,"b":-25.1},
{"p":3,"f":-14.0,"a":-29.8,"b":-24.8},{"p":3,"f":-13.75,"a":-30.4,"b":-23.6},{"p":3,"f":-13.5,"a":-29.3,"b":-24.3},{"p":3,"f":-13.25,"a":-29.0,"b":-25.1},{"p":3,"f":-13.0,"a":-30.1,"b":-24.0},{"p":3,"f":-12.75,"a":-30.0,"b":-23.5},{"p":3,"f":-12.5,"a":-29.5,"b":-24.7},{"p":3,"f":-12.25,"a":-30.5,"b":-24.9},{"p":3,"f":-12.0,"a":-29.0,"b":-24.2},{"p":3,"f":-11.75,"a":-29.1,"b":-23.4},{"p":3,"f":-11.5,"a":-30.0,"b":-23.8},{"p":3,"f":-11.25,"a":-29.8,"b":-25.2},{"p":3,"f":-11.0,"a":-29.6,"b":-24.5},{"p":3,"f":-10.75,"a":-30.7,"b":-23.9},{"p":3,"f":-10.5,"a":-29.1,"b":-25.0},{"p":3,"f":-10.25,"a":-28.9,"b":-23.5},{"p":3,"f":-10.0,"a":-30.2,"b":-24.1},{"p":3,"f":-9.75,"a":-30.3,"b":-25.1},{"p":3,"f":-9.5,"a":-29.7,"b":-23.7},{"p":3,"f":-9.25,"a":-29.5,"b":-23.3},{"p":3,"f":-9.0,"a":-29.2,"b":-24.4},{"p":3,"f":-8.75,"a":-30.6,"b":-24.1},{"p":3,"f":-8.5,"a":-30.1,"b":-24.8},{"p":3,"f":-8.25,"a":-29.0,"b":-23.6},{"p":3,"f":-8.0,"a":-29.4,"b":-23.9},{"p":3,"f":-7.75,"a":-30.4,"b":-25.0},{"p":3,"f":-7.5,"a":-29.0,"b":-24.6},{"p":3,"f":-7.25,"a":-29.7,"b":-23.4},{"p":3,"f":-7.0,"a":-29.9,"b":-24.2},{"p":3,"f":-6.75,"a":-30.1,"b":-24.0},{"p":3,"f":-6.5,"a":-29.8,"b":-23.8},{"p":3,"f":-6.25,"a":-28.9,"b":-23.5},{"p":3,"f":-6.0,"a":-29.3,"b":-24.9},{"p":3,"f":-5.75,"a":-30.5,"b":-25.1},{"p":3,"f":-5.5,"a":-30.2,"b":-24.3},{"p":3,"f":-5.25,"a":-29.4,"b":-23.3},{"p":3,"f":-5.0,"a":-29.1,"b":-24.0},{"p":3,"f":-4.75,"a":-30.7,"b":-24.4},{"p":3,"f":-4.5,"a":-29.7,"b":-24.7},{"p":3,"f":-4.25,"a":-29.0,"b":-23.6},{"p":3,"f":-4.0,"a":-30.3,"b":-24.1},{"p":3,"f":-3.75,"a":-30.2,"b":-25.0},{"p":3,"f":-3.5,"a":-29.4,"b":-23.7},{"p":3,"f":-3.25,"a":-29.6,"b":-23.4},{"p":3,"f":-3.0,"a":-29.0,"b":-24.5},{"p":3,"f":-2.75,"a":-30.5,"b":-24.2},{"p":3,"f":-2.5,"a":-29.9,"b":-24.8},{"p":3,"f":-2.25,"a":-28.9,"b":-23.7},{"p":3,"f":-2.0,"a":-29.5,"b":-24.2},{"p":3,"f":-1.75,"a":-30.3,"b":-25.2},{"p":3,"f":-1.5,"a":-30.1,"b":-24.6},{"p":3,"f":-1.25,"a":-29.8,"b":-23.9},{"p":3,"f":-1.0,"a":-30.6,"b":-25.2},
{"p":3,"f":-0.7,"a":-32.8,"b":-26.8},{"p":3,"f":-0.5,"a":-36.0,"b":-30.2},{"p":3,"f":-0.25,"a":-39.2,"b":-33.5},{"p":3,"f":0.0,"a":-41.0,"b":-35.0},{"p":3,"f":0.25,"a":-38.6,"b":-32.5},{"p":3,"f":0.5,"a":-34.9,"b":-28.8},{"p":3,"f":0.75,"a":-31.0,"b":-25.3},
{"p":3,"f":1.0,"a":-29.9,"b":-24.7},{"p":3,"f":1.25,"a":-30.4,"b":-23.5},{"p":3,"f":1.5,"a":-29.3,"b":-24.1},{"p":3,"f":1.75,"a":-29.1,"b":-25.1},{"p":3,"f":2.0,"a":-29.8,"b":-23.8},{"p":3,"f":2.25,"a":-30.6,"b":-23.4},{"p":3,"f":2.5,"a":-30.3,"b":-24.5},{"p":3,"f":2.75,"a":-29.0,"b":-24.3},{"p":3,"f":3.0,"a":-29.5,"b":-24.9},{"p":3,"f":3.25,"a":-30.3,"b":-23.6},{"p":3,"f":3.5,"a":-29.0,"b":-24.2},{"p":3,"f":3.75,"a":-29.6,"b":-25.2},{"p":3,"f":4.0,"a":-30.0,"b":-23.9},{"p":3,"f":4.25,"a":-30.7,"b":-23.3},{"p":3,"f":4.5,"a":-29.6,"b":-24.6},{"p":3,"f":4.75,"a":-28.9,"b":-24.0},{"p":3,"f":5.0,"a":-30.4,"b":-24.3},{"p":3,"f":5.25,"a":-30.1,"b":-23.5},{"p":3,"f":5.5,"a":-29.2,"b":-23.7},{"p":3,"f":5.75,"a":-29.7,"b":-25.0},{"p":3,"f":6.0,"a":-29.7,"b":-24.8},{"p":3,"f":6.25,"a":-30.5,"b":-23.6},{"p":3,"f":6.5,"a":-29.4,"b":-24.0},{"p":3,"f":6.75,"a":-29.0,"b":-23.4},{"p":3,"f":7.0,"a":-30.2,"b":-24.4},{"p":3,"f":7.25,"a":-30.4,"b":-25.1},{"p":3,"f":7.5,"a":-29.1,"b":-24.9},{"p":3,"f":7.75,"a":-29.5,"b":-23.5},{"p":3,"f":8.0,"a":-29.9,"b":-24.1},{"p":3,"f":8.25,"a":-30.6,"b":-24.2},{"p":3,"f":8.5,"a":-30.3,"b":-23.8},{"p":3,"f":8.75,"a":-28.9,"b":-23.3},{"p":3,"f":9.0,"a":-29.5,"b":-24.5},{"p":3,"f":9.25,"a":-30.2,"b":-24.9},{"p":3,"f":9.5,"a":-29.0,"b":-24.2},{"p":3,"f":9.75,"a":-29.8,"b":-23.6},{"p":3,"f":10.0,"a":-30.1,"b":-24.7},{"p":3,"f":10.25,"a":-30.5,"b":-23.4},{"p":3,"f":10.5,"a":-29.6,"b":-23.9},{"p":3,"f":10.75,"a":-29.0,"b":-25.2},{"p":3,"f":11.0,"a":-30.4,"b":-24.6},{"p":3,"f":11.25,"a":-30.3,"b":-23.7},{"p":3,"f":11.5,"a":-29.3,"b":-24.3},{"p":3,"f":11.75,"a":-29.6,"b":-23.5},{"p":3,"f":12.0,"a":-29.8,"b":-25.0},{"p":3,"f":12.25,"a":-30.7,"b":-25.0},{"p":3,"f":12.5,"a":-30.2,"b":-24.1},{"p":3,"f":12.75,"a":-29.1,"b":-23.8},{"p":3,"f":13.0,"a":-29.7,"b":-24.8},{"p":3,"f":13.25,"a":-30.4,"b":-24.4},{"p":3,"f":13.5,"a":-30.5,"b":-24.4},{"p":3,"f":13.75,"a":-29.7,"b":-23.6},{"p":3,"f":14.0,"a":-30.0,"b":-24.9},{"p":3,"f":14.25,"a":-30.8,"b":-25.1},{"p":3,"f":14.5,"a":-30.6,"b":-24.7},{"p":3,"f":14.75,"a":-30.0,"b":-24.0},{"p":3,"f":15.0,"a":-30.7,"b":-25.3},
{"p":3,"f":15.5,"a":-31.4,"b":-25.5},{"p":3,"f":16.0,"a":-31.3,"b":-26.4},{"p":3,"f":16.5,"a":-32.5,"b":-26.7},{"p":3,"f":17.0,"a":-32.8,"b":-28.1},{"p":3,"f":17.5,"a":-34.6,"b":-28.6},{"p":3,"f":17.9,"a":-35.4,"b":-30.6},{"p":3,"f":18.1,"a":-37.4,"b":-32.3},{"p":3,"f":18.2,"a":-45.0,"b":-38.8},{"p":3,"f":18.5,"a":-48.1,"b":-42.0},{"p":3,"f":18.75,"a":-49.5,"b":-42.5},{"p":3,"f":19.0,"a":-49.1,"b":-44.2},{"p":3,"f":19.25,"a":-49.8,"b":-45.1},{"p":3,"f":19.5,"a":-51.2,"b":-45.1},{"p":3,"f":19.75,"a":-52.1,"b":-45.3},{"p":3,"f":20.0,"a":-52.0,"b":-47.1},{"p":3,"f":20.25,"a":-52.6,"b":-47.9},{"p":3,"f":20.5,"a":-54.1,"b":-48.0},{"p":3,"f":20.75,"a":-55.0,"b":-48.1},{"p":3,"f":21.0,"a":-54.8,"b":-50.0},{"p":3,"f":21.25,"a":-55.3,"b":-50.7},{"p":3,"f":21.5,"a":-56.5,"b":-50.6},{"p":3,"f":21.75,"a":-57.4,"b":-50.8},{"p":3,"f":22.0,"a":-57.2,"b":-52.5},{"p":3,"f":22.25,"a":-57.8,"b":-53.4},{"p":3,"f":22.5,"a":-58.9,"b":-53.0},{"p":3,"f":22.75,"a":-59.6,"b":-53.4},{"p":3,"f":23.0,"a":-59.5,"b":-54.9},{"p":3,"f":23.25,"a":-60.2,"b":-55.6},{"p":3,"f":23.5,"a":-61.1,"b":-55.4},{"p":3,"f":23.75,"a":-61.8,"b":-55.6},{"p":3,"f":24.0,"a":-61.2,"b":-56.9},{"p":3,"f":24.25,"a":-61.7,"b":-57.5},{"p":3,"f":24.5,"a":-62.5,"b":-57.3},{"p":3,"f":24.75,"a":-63.3,"b":-57.4},{"p":3,"f":25.0,"a":-62.6,"b":-58.7},{"p":3,"f":25.25,"a":-63.1,"b":-59.3},{"p":3,"f":25.5,"a":-63.7,"b":-58.9},{"p":3,"f":25.75,"a":-64.5,"b":-59.0},{"p":3,"f":26.0,"a":-63.7,"b":-60.2},{"p":3,"f":26.25,"a":-64.3,"b":-60.8},{"p":3,"f":26.5,"a":-64.7,"b":-60.3},{"p":3,"f":26.75,"a":-65.4,"b":-60.4},{"p":3,"f":27.0,"a":-64.6,"b":-61.5},{"p":3,"f":27.25,"a":-65.1,"b":-62.2},{"p":3,"f":27.5,"a":-65.5,"b":-61.5},{"p":3,"f":27.75,"a":-66.3,"b":-61.7},{"p":3,"f":28.0,"a":-65.3,"b":-62.6},{"p":3,"f":28.25,"a":-65.8,"b":-63.3},{"p":3,"f":28.5,"a":-66.2,"b":-62.5},{"p":3,"f":28.75,"a":-66.9,"b":-62.5},{"p":3,"f":29.0,"a":-65.9,"b":-63.5},{"p":3,"f":29.25,"a":-66.4,"b":-64.1},{"p":3,"f":29.5,"a":-66.8,"b":-63.3},{"p":3,"f":29.75,"a":-67.5,"b":-63.3},{"p":3,"f":30.0,"a":-66.5,"b":-64.2},{"p":3,"f":30.25,"a":-66.9,"b":-64.8},{"p":3,"f":30.5,"a":-67.1,"b":-63.9},{"p":3,"f":30.75,"a":-67.8,"b":-63.8},{"p":3,"f":31.0,"a":-66.9,"b":-64.8},{"p":3,"f":31.25,"a":-67.3,"b":-65.3},{"p":3,"f":31.5,"a":-67.5,"b":-64.4},{"p":3,"f":31.75,"a":-68.2,"b":-64.2},{"p":3,"f":32.0,"a":-67.2,"b":-65.2},{"p":3,"f":32.25,"a":-67.6,"b":-65.8},{"p":3,"f":32.5,"a":-67.8,"b":-64.8},{"p":3,"f":32.75,"a":-68.5,"b":-64.7},{"p":3,"f":33.0,"a":-67.5,"b":-65.6},{"p":3,"f":33.25,"a":-67.8,"b":-66.2},{"p":3,"f":33.5,"a":-68.1,"b":-65.2},{"p":3,"f":33.75,"a":-68.7,"b":-65.0},{"p":3,"f":34.0,"a":-67.7,"b":-65.9},{"p":3,"f":34.25,"a":-68.1,"b":-66.4},{"p":3,"f":34.5,"a":-68.3,"b":-65.5},{"p":3,"f":34.7,"a":-68.6,"b":-65.3},{"p":3,"f":34.9,"a":-67.9,"b":-66.1},
{"p":1,"g":-20.2,"c":-58.5,"d":-53},{"p":1,"g":-17.99,"c":-36.8,"d":-32},{"p":1,"g":-17.3,"c":-35.5,"d":-31},{"p":1,"g":-16.1,"c":-34.4,"d":-28},{"p":1,"g":-14.9,"c":-31.0,"d":-27},{"p":1,"g":-13.7,"c":-30.2,"d":-27},{"p":1,"g":-12.34,"c":-34.0,"d":-27},{"p":1,"g":-10.8,"c":-30.4,"d":-27},{"p":1,"g":-9.7,"c":-29.9,"d":-27},{"p":1,"g":-8.61,"c":-31.6,"d":-27},{"p":1,"g":-6.51,"c":-30.6,"d":-27},{"p":1,"g":-5.3,"c":-29.8,"d":-27},{"p":1,"g":-4.48,"c":-32.6,"d":-27},{"p":1,"g":-3.1,"c":-30.0,"d":-27},{"p":1,"g":-1.1,"c":-30.5,"d":-27},{"p":1,"g":2.2,"c":-29.9,"d":-27},{"p":1,"g":3.3,"c":-30.3,"d":-27},{"p":1,"g":4.56,"c":-31.4,"d":-27},{"p":1,"g":6.4,"c":-30.2,"d":-27},{"p":1,"g":8.58,"c":-31.0,"d":-27},{"p":1,"g":9.9,"c":-29.8,"d":-27},{"p":1,"g":11.2,"c":-30.5,"d":-27},{"p":1,"g":12.23,"c":-31.5,"d":-27},{"p":1,"g":14.11,"c":-30.2,"d":-27},{"p":1,"g":15.3,"c":-30.9,"d":-28},{"p":1,"g":16.07,"c":-34.6,"d":-28},{"p":1,"g":17.2,"c":-33.5,"d":-30},{"p":1,"g":18.7,"c":-52,"d":-46},{"p":1,"g":20.2,"c":-55,"d":-49},
{"p":1,"g":-15.6,"c":-24,"d":-21.8},{"p":1,"g":-11.8,"c":-23,"d":-20.9},{"p":1,"g":-9.2,"c":-23,"d":-21.2},{"p":1,"g":-7.3,"c":-23,"d":-20.8},{"p":1,"g":-4.2,"c":-23,"d":-21.0},{"p":1,"g":-2.7,"c":-23,"d":-21.3},{"p":1,"g":1.8,"c":-23,"d":-21.1},{"p":1,"g":4.9,"c":-23,"d":-20.9},{"p":1,"g":7.7,"c":-23,"d":-21.2},{"p":1,"g":10.3,"c":-23,"d":-20.8},{"p":1,"g":13.1,"c":-23,"d":-21.3},{"p":1,"g":0.0,"c":-33,"d":-18.47},
{"p":2,"g":-17.8,"c":-37.5,"d":-33},{"p":2,"g":-16.9,"c":-35.8,"d":-31},{"p":2,"g":-15.2,"c":-34.8,"d":-29},{"p":2,"g":-13.9,"c":-31.6,"d":-28},{"p":2,"g":-11.6,"c":-33.0,"d":-28},{"p":2,"g":-10.2,"c":-31.1,"d":-28},{"p":2,"g":-9.4,"c":-32.6,"d":-28},{"p":2,"g":-7.7,"c":-31.3,"d":-28},{"p":2,"g":-5.7,"c":-33.5,"d":-28},{"p":2,"g":-4.1,"c":-31.0,"d":-28},{"p":2,"g":-2.9,"c":-32.0,"d":-28},{"p":2,"g":-1.3,"c":-31.5,"d":-28},{"p":2,"g":2.5,"c":-31.2,"d":-28},{"p":2,"g":3.7,"c":-32.4,"d":-28},{"p":2,"g":5.4,"c":-31.0,"d":-28},{"p":2,"g":7.2,"c":-31.9,"d":-28},{"p":2,"g":8.9,"c":-31.3,"d":-28},{"p":2,"g":10.9,"c":-32.8,"d":-28},{"p":2,"g":12.1,"c":-31.1,"d":-28},{"p":2,"g":13.4,"c":-31.5,"d":-28},{"p":2,"g":14.8,"c":-32.0,"d":-29},{"p":2,"g":16.3,"c":-35.0,"d":-29},{"p":2,"g":17.3,"c":-34.6,"d":-31},{"p":2,"g":18.8,"c":-52.5,"d":-46},{"p":2,"g":20.6,"c":-56,"d":-50},
{"p":2,"g":-15.0,"c":-25,"d":-23.0},{"p":2,"g":-12.3,"c":-24,"d":-22.2},{"p":2,"g":-8.8,"c":-24,"d":-22.5},{"p":2,"g":-6.4,"c":-24,"d":-22.1},{"p":2,"g":-3.6,"c":-24,"d":-22.4},{"p":2,"g":1.6,"c":-24,"d":-22.3},{"p":2,"g":4.4,"c":-24,"d":-22.0},{"p":2,"g":6.9,"c":-24,"d":-22.6},{"p":2,"g":9.6,"c":-24,"d":-22.1},{"p":2,"g":11.8,"c":-24,"d":-22.5},{"p":2,"g":14.2,"c":-24,"d":-22.7},{"p":2,"g":0.0,"c":-35,"d":-18.78},
{"p":3,"g":-17.6,"c":-37.8,"d":-33},{"p":3,"g":-16.5,"c":-36.2,"d":-31},{"p":3,"g":-14.6,"c":-34.6,"d":-30},{"p":3,"g":-13.2,"c":-32.4,"d":-29},{"p":3,"g":-10.8,"c":-33.2,"d":-29},{"p":3,"g":-9.8,"c":-32.0,"d":-29},{"p":3,"g":-7.9,"c":-32.8,"d":-29},{"p":3,"g":-6.8,"c":-32.1,"d":-29},{"p":3,"g":-4.9,"c":-33.6,"d":-29},{"p":3,"g":-3.3,"c":-32.0,"d":-29},{"p":3,"g":-2.2,"c":-32.2,"d":-29},{"p":3,"g":-1.2,"c":-32.8,"d":-29},{"p":3,"g":1.9,"c":-32.4,"d":-29},{"p":3,"g":2.9,"c":-32.6,"d":-29},{"p":3,"g":4.8,"c":-32.2,"d":-29},{"p":3,"g":6.8,"c":-32.0,"d":-29},{"p":3,"g":8.2,"c":-32.7,"d":-29},{"p":3,"g":9.9,"c":-33.0,"d":-29},{"p":3,"g":11.4,"c":-32.2,"d":-29},{"p":3,"g":12.8,"c":-32.1,"d":-29},{"p":3,"g":14.5,"c":-32.9,"d":-30},{"p":3,"g":16.1,"c":-35.4,"d":-30},{"p":3,"g":17.4,"c":-35.2,"d":-32},{"p":3,"g":18.9,"c":-53,"d":-46.5},{"p":3,"g":20.9,"c":-56.5,"d":-50.5},
{"p":3,"g":-15.3,"c":-26,"d":-23.5},{"p":3,"g":-11.9,"c":-25,"d":-22.9},{"p":3,"g":-8.4,"c":-25,"d":-23.1},{"p":3,"g":-5.9,"c":-25,"d":-22.8},{"p":3,"g":-2.7,"c":-25,"d":-23.2},{"p":3,"g":1.3,"c":-25,"d":-23.0},{"p":3,"g":3.9,"c":-25,"d":-22.7},{"p":3,"g":7.5,"c":-25,"d":-23.2},{"p":3,"g":10.6,"c":-25,"d":-22.8},{"p":3,"g":13.6,"c":-25,"d":-23.1},{"p":3,"g":0.0,"c":-35,"d":-17.39}
]},
"facet": {"row": {"field": "p", "type": "ordinal", "title": null, "header": null}},
"spacing": {"row": 169},
"bounds": "flush",
"resolve": {"axis": {"x": "independent", "y": "independent"}},
"spec": {
"width": 631,
"height": 381,
"layer": [
{"transform": [{"filter": "isValid(datum.title)"}],
 "layer": [
  {"mark": {"type": "rect", "fill": "#c0c0c0", "stroke": "black", "strokeWidth": 2}, "encoding": {"x": {"datum": -69.46}, "x2": {"datum": 68.91}, "y": {"datum": 60.45}, "y2": {"datum": 53.10}}},
  {"mark": {"type": "text", "font": "Liberation Sans", "fontSize": 22.5, "align": "center", "baseline": "middle", "color": "black"}, "encoding": {"x": {"datum": -0.2}, "y": {"datum": 56.77}, "text": {"field": "title"}}},
  {"mark": {"type": "rule", "stroke": "black", "strokeWidth": 2}, "encoding": {"x": {"datum": -69.46}, "y": {"datum": 53.10}, "y2": {"datum": -83.91}}},
  {"mark": {"type": "rule", "stroke": "black", "strokeWidth": 2}, "encoding": {"x": {"datum": 68.91}, "y": {"datum": 53.10}, "y2": {"datum": -83.91}}},
  {"mark": {"type": "rule", "stroke": "#333", "strokeWidth": 1.2}, "encoding": {"x": {"datum": -35.20}, "y": {"datum": 51.6}, "y2": {"datum": 46.01}}},
  {"mark": {"type": "rule", "stroke": "#333", "strokeWidth": 1.2}, "encoding": {"x": {"datum": -34.9}, "x2": {"datum": -24.4}, "y": {"datum": 52.31}}},
  {"mark": {"type": "rule", "stroke": "#333", "strokeWidth": 1.2}, "encoding": {"x": {"datum": -35.20}, "x2": {"datum": -34.9}, "y": {"datum": 51.6}, "y2": {"datum": 52.31}}},
  {"mark": {"type": "rule", "stroke": "#333", "strokeWidth": 1.2}, "encoding": {"x": {"datum": -24.4}, "x2": {"datum": -24.08}, "y": {"datum": 52.31}, "y2": {"datum": 51.6}}},
  {"mark": {"type": "rule", "stroke": "#333", "strokeWidth": 1.2}, "encoding": {"x": {"datum": -24.08}, "y": {"datum": 51.6}, "y2": {"datum": 46.01}}},
  {"mark": {"type": "rule", "stroke": "#333", "strokeWidth": 1.2}, "encoding": {"x": {"datum": -24.08}, "x2": {"datum": 32.27}, "y": {"datum": 46.01}}},
  {"mark": {"type": "rect", "fill": "white", "stroke": "#333", "strokeWidth": 1.2, "cornerRadius": 3}, "encoding": {"x": {"datum": 32.38}, "x2": {"datum": 35.09}, "y": {"datum": 52.44}, "y2": {"datum": 46.14}}},
  {"mark": {"type": "rect", "fill": "#444"}, "encoding": {"x": {"datum": 33.16}, "x2": {"datum": 34.37}, "y": {"datum": 51.39}, "y2": {"datum": 50.21}}},
  {"mark": {"type": "text", "fontSize": 9, "align": "center", "baseline": "middle", "color": "#333"}, "encoding": {"x": {"datum": 33.76}, "y": {"datum": 48.11}, "text": {"value": "△"}}},
  {"mark": {"type": "text", "fontSize": 13, "align": "left", "baseline": "middle", "color": "#707070"}, "encoding": {"x": {"datum": -34.37}, "y": {"datum": 49.16}, "text": {"value": "Spectrum"}}},
  {"mark": {"type": "text", "fontSize": 9.5, "fontWeight": "bold", "align": "left", "baseline": "middle", "color": "#1e1e1e"}, "encoding": {"x": {"datum": -33.43}, "y": {"datum": 43.52}, "text": {"value": "Ref Level"}}},
  {"mark": {"type": "text", "fontSize": 9.5, "fontWeight": "bold", "align": "left", "baseline": "middle", "color": "#1e1e1e"}, "encoding": {"x": {"datum": -18.99}, "y": {"datum": 43.52}, "text": {"value": "Offset"}}},
  {"mark": {"type": "text", "fontSize": 9.5, "fontWeight": "bold", "align": "left", "baseline": "middle", "color": "#1e1e1e"}, "encoding": {"x": {"datum": -6.92}, "y": {"datum": 43.52}, "text": {"value": "RBW"}}},
  {"mark": {"type": "text", "fontSize": 9.5, "fontWeight": "bold", "align": "left", "baseline": "middle", "color": "#1e1e1e"}, "encoding": {"x": {"datum": -33.43}, "y": {"datum": 39.97}, "text": {"value": "Att"}}},
  {"mark": {"type": "text", "fontSize": 9.5, "fontWeight": "bold", "align": "left", "baseline": "middle", "color": "#1e1e1e"}, "encoding": {"x": {"datum": -18.99}, "y": {"datum": 39.97}, "text": {"value": "SWT"}}},
  {"mark": {"type": "text", "fontSize": 9.5, "fontWeight": "bold", "align": "left", "baseline": "middle", "color": "#1e1e1e"}, "encoding": {"x": {"datum": -6.92}, "y": {"datum": 39.97}, "text": {"value": "VBW"}}},
  {"mark": {"type": "text", "fontSize": 9.5, "fontWeight": "bold", "align": "left", "baseline": "middle", "color": "#1e1e1e"}, "encoding": {"x": {"datum": 2.49}, "y": {"datum": 39.97}, "text": {"value": "Mode"}}},
  {"mark": {"type": "text", "fontSize": 10, "align": "right", "baseline": "middle", "color": "#333"}, "encoding": {"x": {"datum": -20.87}, "y": {"datum": 43.52}, "text": {"field": "ref"}}},
  {"mark": {"type": "text", "fontSize": 10, "align": "right", "baseline": "middle", "color": "#333"}, "encoding": {"x": {"datum": -9.46}, "y": {"datum": 43.52}, "text": {"field": "off"}}},
  {"mark": {"type": "text", "fontSize": 10, "align": "left", "baseline": "middle", "color": "#333"}, "encoding": {"x": {"datum": -3.27}, "y": {"datum": 43.52}, "text": {"value": "10 kHz"}}},
  {"mark": {"type": "text", "fontSize": 10, "align": "right", "baseline": "middle", "color": "#333"}, "encoding": {"x": {"datum": -20.87}, "y": {"datum": 39.97}, "text": {"value": "20 dB"}}},
  {"mark": {"type": "text", "fontSize": 10, "align": "right", "baseline": "middle", "color": "#333"}, "encoding": {"x": {"datum": -9.46}, "y": {"datum": 39.97}, "text": {"value": "3 ms"}}},
  {"mark": {"type": "text", "fontSize": 10, "align": "left", "baseline": "middle", "color": "#333"}, "encoding": {"x": {"datum": -3.27}, "y": {"datum": 39.97}, "text": {"value": "30 kHz"}}},
  {"mark": {"type": "text", "fontSize": 10, "align": "left", "baseline": "middle", "color": "#333"}, "encoding": {"x": {"datum": 6.59}, "y": {"datum": 39.97}, "text": {"value": "Auto FFT"}}},
  {"mark": {"type": "text", "fontSize": 10, "align": "left", "baseline": "middle", "color": "#333"}, "encoding": {"x": {"datum": -34.04}, "y": {"datum": 36.30}, "text": {"value": "Count 100/100"}}},
  {"mark": {"type": "point", "filled": true, "color": "#4cae4c", "size": 22, "opacity": 1}, "encoding": {"x": {"datum": -8.47}, "y": {"datum": 43.52}}},
  {"mark": {"type": "point", "filled": true, "color": "#4cae4c", "size": 22, "opacity": 1}, "encoding": {"x": {"datum": -8.47}, "y": {"datum": 39.97}}},
  {"mark": {"type": "point", "filled": true, "color": "#4cae4c", "size": 22, "opacity": 1}, "encoding": {"x": {"datum": -34.70}, "y": {"datum": 39.97}}},
  {"mark": {"type": "rect", "filled": false, "color": "#1a1a1a", "strokeWidth": 2, "cornerRadius": 4}, "encoding": {"x": {"datum": -35.20}, "x2": {"datum": 35.04}, "y": {"datum": 34.33}, "y2": {"datum": -73.81}}},
  {"mark": {"type": "point", "filled": true, "color": "#1f3ccf", "size": 30, "opacity": 1}, "encoding": {"x": {"datum": -34.37}, "y": {"datum": 32.23}}},
  {"mark": {"type": "text", "fontSize": 10, "align": "left", "baseline": "middle", "color": "#333"}, "encoding": {"x": {"datum": -33.87}, "y": {"datum": 32.23}, "text": {"value": "1Rm View"}}},
  {"mark": {"type": "text", "font": "Liberation Mono", "fontSize": 10.5, "align": "left", "baseline": "middle", "color": "#8a8a8a"}, "encoding": {"x": {"datum": -35.15}, "y": {"datum": -78.7}, "text": {"field": "date"}}}
 ]},
{"transform": [{"filter": "isValid(datum.h)"}],
 "layer": [
  {"transform": [{"filter": "datum.h >= 0"}],
   "mark": {"type": "rule", "strokeWidth": 1, "stroke": "#707070"},
   "encoding": {
    "x": {"datum": -30.50}, "x2": {"datum": 34.925},
    "y": {"field": "h", "type": "quantitative", "scale": {"domain": [-70, 30], "nice": false, "zero": false},
          "axis": {"values": [20,10,0,-10,-20,-30,-40,-50,-60], "labelExpr": "datum.value + ' dBm'", "labelAlign": "left", "labelBaseline": "middle", "labelPadding": -3, "ticks": false, "domain": false, "grid": false, "title": null, "labelFont": "DejaVu Sans", "labelFontSize": 9, "labelColor": "#3a3a3a", "labelOverlap": false, "labelBound": false}}
   }},
  {"transform": [{"filter": "datum.h < 0"}],
   "mark": {"type": "rule", "strokeWidth": 1},
   "encoding": {
    "x": {"datum": -29.83}, "x2": {"datum": 34.925},
    "y": {"field": "h", "type": "quantitative", "title": null},
    "stroke": {"condition": {"test": "datum.h == -30 || datum.h == -50", "value": "#1a1a1a"}, "value": "#707070"}
   }}
 ]},
{"transform": [{"filter": "isValid(datum.title)"}],
 "mark": {"type": "rect", "fill": "white"},
 "encoding": {"x": {"datum": 0.28}, "x2": {"datum": 34.81}, "y": {"datum": 29.74}, "y2": {"datum": 22.39}}},
{"transform": [{"filter": "isValid(datum.a)"}],
 "mark": {"type": "area", "color": "#1414f2", "opacity": 1},
 "encoding": {
  "x": {"field": "f", "type": "quantitative", "scale": {"domain": [-34.925, 34.925], "nice": false, "zero": false},
        "axis": {"values": [-27.94,-20.955,-13.97,-6.985,0,6.985,13.97,20.955,27.94], "grid": true, "gridColor": "#666", "gridWidth": 1, "labels": false, "ticks": false, "domain": false, "title": null}},
  "y": {"field": "a", "type": "quantitative", "title": null},
  "y2": {"field": "b"}
 }},
{"transform": [{"filter": "isValid(datum.g)"}],
 "mark": {"type": "rule", "color": "#2626ff", "strokeWidth": 1},
 "encoding": {"x": {"field": "g", "type": "quantitative", "title": null}, "y": {"field": "c", "type": "quantitative", "title": null}, "y2": {"field": "d"}}},
{"transform": [{"filter": "isValid(datum.title)"}],
 "layer": [
  {"mark": {"type": "point", "shape": "triangle-down", "filled": true, "color": "#3399cc", "size": 40, "opacity": 1, "yOffset": -3.5}, "encoding": {"x": {"field": "mx", "type": "quantitative", "title": null}, "y": {"field": "my", "type": "quantitative", "title": null}}},
  {"mark": {"type": "text", "fontSize": 10, "align": "center", "baseline": "middle", "color": "#3399cc", "yOffset": -13}, "encoding": {"x": {"field": "mx", "type": "quantitative", "title": null}, "y": {"field": "my", "type": "quantitative", "title": null}, "text": {"value": "M1"}}},
  {"mark": {"type": "text", "fontSize": 10.5, "fontWeight": "bold", "align": "left", "baseline": "middle", "color": "#3399cc"}, "encoding": {"x": {"datum": 5.70}, "y": {"datum": 27.77}, "text": {"value": "M1[1]"}}},
  {"mark": {"type": "text", "fontSize": 10.5, "fontWeight": "bold", "align": "right", "baseline": "middle", "color": "#3399cc"}, "encoding": {"x": {"datum": 34.59}, "y": {"datum": 27.77}, "text": {"field": "mk"}}},
  {"mark": {"type": "text", "fontSize": 10.5, "fontWeight": "bold", "align": "right", "baseline": "middle", "color": "#3399cc"}, "encoding": {"x": {"datum": 34.59}, "y": {"datum": 24.23}, "text": {"field": "mf"}}},
  {"mark": {"type": "text", "fontSize": 10.3, "fontWeight": "bold", "align": "left", "baseline": "middle", "color": "#111"}, "encoding": {"x": {"datum": -34.59}, "y": {"datum": -71.97}, "text": {"field": "cf"}}},
  {"mark": {"type": "text", "fontSize": 10.3, "fontWeight": "bold", "align": "center", "baseline": "middle", "color": "#111"}, "encoding": {"x": {"datum": -0.05}, "y": {"datum": -71.97}, "text": {"value": "30000 pts"}}},
  {"mark": {"type": "text", "fontSize": 10.3, "fontWeight": "bold", "align": "right", "baseline": "middle", "color": "#111"}, "encoding": {"x": {"datum": 34.59}, "y": {"datum": -71.97}, "text": {"field": "span"}}}
 ]}
]
}
}
